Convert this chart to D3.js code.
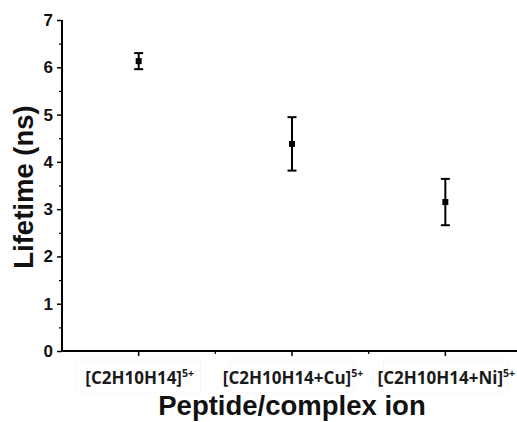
<!DOCTYPE html>
<html><head><meta charset="utf-8">
<script src="https://cdn.jsdelivr.net/npm/d3@7"></script>
<style>html,body{margin:0;padding:0;background:#fff;}svg{display:block;}</style>
</head><body>
<script>
const categories = ["[C2H10H14]", "[C2H10H14+Cu]", "[C2H10H14+Ni]"];
const superscripts = ["5+", "5+", "5+"];
const lifetimes = [6.13, 4.38, 3.15];
const errors = [0.17, 0.565, 0.49];
const yTicks = [0, 1, 2, 3, 4, 5, 6, 7];
const yMinorTicks = [0.5, 1.5, 2.5, 3.5, 4.5, 5.5, 6.5];
const xTitle = "Peptide/complex ion";
const yTitle = "Lifetime (ns)";

const W = 517, H = 422;
const svg = d3.select("body").append("svg").attr("width", W).attr("height", H);

const x = d3.scaleBand().domain(categories).range([62, 522]).padding(0);
const y = d3.scaleLinear().domain([0, 7]).range([351, 20]);

// faint label boxes
const g = svg.append("g");
categories.forEach((c, i) => {
  const cx = x(c) + x.bandwidth() / 2;
  g.append("rect").attr("x", cx - 62).attr("y", 360).attr("width", 124).attr("height", 32)
    .attr("fill", "none").attr("stroke", "#f6f6f6").attr("stroke-width", 1);
});

// y axis
const yAxis = d3.axisLeft(y).tickValues(yTicks).tickSize(5).tickPadding(4).tickFormat(d3.format("d"));
const ya = svg.append("g").attr("transform", "translate(62,0)").call(yAxis);
ya.attr("font-size", null).attr("font-family", null);
ya.select(".domain").attr("stroke", "#000").attr("stroke-width", 2).attr("d", "M0,20V352");
ya.selectAll(".tick line").attr("stroke", "#000").attr("stroke-width", 1.5);
ya.selectAll(".tick text")
  .style("font-family", "'Liberation Sans', Arial, sans-serif").style("font-weight", "bold")
  .style("font-size", "17px").style("fill", "#111");
const yMinor = d3.axisLeft(y).tickValues(yMinorTicks).tickSize(3).tickFormat("");
const ym = svg.append("g").attr("transform", "translate(62,0)").call(yMinor);
ym.select(".domain").remove();
ym.selectAll(".tick line").attr("stroke", "#000").attr("stroke-width", 1.2);

// x axis
const xAxis = d3.axisBottom(x).tickSize(5).tickFormat("");
const xa = svg.append("g").attr("transform", "translate(0,351)").call(xAxis);
xa.select(".domain").attr("stroke", "#000").attr("stroke-width", 2).attr("d", "M61,0H522");
xa.selectAll(".tick line").attr("stroke", "#000").attr("stroke-width", 1.5);
const edges = categories.slice(1).map(c => x(c));
svg.append("g").selectAll("line").data(edges).join("line")
  .attr("x1", d => d).attr("x2", d => d).attr("y1", 351).attr("y2", 354)
  .attr("stroke", "#000").attr("stroke-width", 1.2);

// category labels
const lab = svg.append("g").selectAll("text").data(categories).join("text")
  .attr("x", d => x(d) + x.bandwidth() / 2 + 1)
  .attr("y", 384)
  .attr("text-anchor", "middle")
  .style("font-family", "'Open Sans', sans-serif").style("font-weight", 700)
  .style("font-size", "17px").style("fill", "#1a1a1a");
lab.append("tspan").text(d => d);
lab.append("tspan").style("font-size", "10.5px").attr("dy", -7).text((d, i) => superscripts[i]);

// error bars
const pts = svg.append("g");
categories.forEach((c, i) => {
  const cx = x(c) + x.bandwidth() / 2;
  const hi = y(lifetimes[i] + errors[i]), lo = y(lifetimes[i] - errors[i]), cy = y(lifetimes[i]);
  pts.append("line").attr("x1", cx).attr("x2", cx).attr("y1", hi).attr("y2", lo).attr("stroke", "#000").attr("stroke-width", 2);
  pts.append("line").attr("x1", cx - 4.5).attr("x2", cx + 4.5).attr("y1", hi).attr("y2", hi).attr("stroke", "#000").attr("stroke-width", 2);
  pts.append("line").attr("x1", cx - 4.5).attr("x2", cx + 4.5).attr("y1", lo).attr("y2", lo).attr("stroke", "#000").attr("stroke-width", 2);
  pts.append("rect").attr("x", cx - 3).attr("y", cy - 3).attr("width", 6).attr("height", 6).attr("fill", "#000");
});

// titles
svg.append("text").attr("x", 292).attr("y", 415).attr("text-anchor", "middle")
  .style("font-family", "'Liberation Sans', Arial, sans-serif").style("font-weight", "bold")
  .style("font-size", "27.5px").style("fill", "#111").text(xTitle);
svg.append("text").attr("transform", "translate(33,187) rotate(-90)").attr("text-anchor", "middle")
  .style("font-family", "'Liberation Sans', Arial, sans-serif").style("font-weight", "bold")
  .style("font-size", "27.5px").style("fill", "#111").text(yTitle);
</script>
</body></html>
